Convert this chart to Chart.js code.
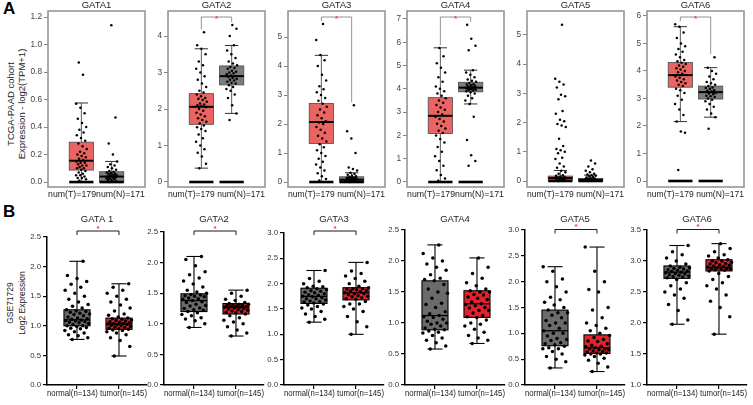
<!DOCTYPE html>
<html><head><meta charset="utf-8">
<script src="https://cdn.jsdelivr.net/npm/chart.js@4.4.1/dist/chart.umd.min.js"></script>
<style>
html,body{margin:0;padding:0;background:#fff}
body{width:753px;height:405px;overflow:hidden;position:relative;font-family:"Liberation Sans",Arial,sans-serif}
canvas{position:absolute}
.yt{position:absolute;white-space:nowrap;text-align:center;color:#222;transform:translate(-50%,-50%) rotate(-90deg)}
.pl{position:absolute;font-weight:bold;font-size:17px;color:#000}
</style></head><body>
<div class="pl" style="left:3px;top:-1px">A</div>
<div class="pl" style="left:3px;top:202px">B</div>
<div class="yt" style="left:16px;top:104px;font-size:9.5px;line-height:11px">TCGA-PAAD cohort<br>Expression - log2(TPM+1)</div>
<div class="yt" style="left:16px;top:303px;font-size:8.5px;line-height:12px">GSE71729<br>Log2 Expression</div>
<script>
// ================= DATA =================
// Panel A : TCGA-PAAD (T = tumor, N = normal)
const genesA = ['GATA1','GATA2','GATA3','GATA4','GATA5','GATA6'];
const xLabelsA = ['num(T)=179num(N)=171','num(T)=179 num(N)=171','num(T)=179 num(N)=171','num(T)=179num(N)=171','num(T)=179 num(N)=171','num(T)=179 num(N)=171'];
const yTicksA = [[0,0.2,0.4,0.6,0.8,1.0,1.2],[0,1,2,3,4],[0,1,2,3,4,5],[0,1,2,3,4,5,6,7],[0,1,2,3,4,5],[0,1,2,3,4,5,6]];
const yRangeA = [[-0.036,1.244],[-0.137,4.685],[-0.172,5.9],[-0.215,7.34],[-0.205,5.82],[-0.218,6.18]];
const sigA = [false,true,true,true,false,true];
// box stats [lower whisker, q1, median, q3, upper whisker]
const statT_A = [[0,0.087,0.155,0.29,0.575],[0.38,1.58,2.06,2.42,3.65],[0,1.33,2.07,2.71,4.37],[0,2.08,2.84,3.62,5.76],[0,0.03,0.1,0.17,0.36],[2.16,3.41,3.85,4.31,5.61]];
const statN_A = [[0,0.002,0.04,0.075,0.15],[1.88,2.66,2.9,3.18,3.74],[0,0.0,0.08,0.18,0.32],[3.35,3.87,4.05,4.28,4.8],[0,0,0.04,0.09,0.2],[2.32,2.98,3.23,3.45,4.12]];
const zeroLevelA = 0;
const tcgaT1 = [0.01,0.02,0.03,0.03,0.04,0.05,0.05,0.06,0.07,0.08,0.09,0.1,0.1,0.11,0.12,0.12,0.13,0.14,0.14,0.15,0.16,0.17,0.18,0.19,0.2,0.21,0.22,0.24,0.26,0.28,0.3,0.32,0.34,0.36,0.38,0.4,0.43,0.46,0.5,0.54,0.57,0.78,0.87];
const tcgaN1 = [0.0,0.005,0.01,0.015,0.02,0.02,0.025,0.03,0.03,0.035,0.04,0.04,0.045,0.05,0.05,0.055,0.06,0.06,0.065,0.07,0.075,0.08,0.09,0.1,0.11,0.12,0.13,0.15,0.2,0.28,0.47,1.14];
const tcgaT2 = [0.38,0.5,0.7,0.8,0.9,1.0,1.1,1.2,1.3,1.4,1.45,1.5,1.55,1.6,1.65,1.7,1.75,1.8,1.85,1.9,1.95,2.0,2.05,2.08,2.1,2.12,2.15,2.2,2.25,2.28,2.3,2.35,2.4,2.45,2.5,2.6,2.7,2.8,2.9,3.0,3.1,3.2,3.3,3.5,3.65,3.75,4.1];
const tcgaN2 = [1.7,1.88,2.1,2.3,2.4,2.5,2.55,2.6,2.65,2.7,2.72,2.75,2.78,2.8,2.82,2.85,2.88,2.9,2.92,2.95,2.98,3.0,3.02,3.05,3.1,3.12,3.15,3.2,3.25,3.3,3.4,3.5,3.6,3.75,4.0,4.2,4.3];
const tcgaT3 = [0.05,0.1,0.2,0.3,0.4,0.5,0.6,0.7,0.8,0.9,1.0,1.1,1.2,1.3,1.4,1.5,1.6,1.7,1.8,1.9,2.0,2.05,2.1,2.2,2.3,2.4,2.5,2.6,2.7,2.8,2.9,3.0,3.1,3.2,3.3,3.5,3.7,4.0,4.2,4.38,4.9,5.45];
const tcgaN3 = [0.0,0.01,0.02,0.03,0.04,0.05,0.05,0.06,0.07,0.07,0.08,0.09,0.1,0.1,0.11,0.12,0.12,0.13,0.14,0.15,0.16,0.18,0.2,0.22,0.25,0.28,0.32,0.4,0.45,0.5,1.0,1.5,1.75,2.65];
const tcgaT4 = [0.05,0.15,0.3,0.5,0.7,0.9,1.1,1.3,1.5,1.7,1.85,2.0,2.1,2.2,2.3,2.4,2.5,2.6,2.7,2.8,2.9,3.0,3.1,3.2,3.3,3.4,3.5,3.6,3.7,3.8,3.9,4.0,4.1,4.3,4.5,4.7,4.9,5.1,5.4,5.75];
const tcgaN4 = [0.7,0.9,1.15,1.8,2.8,3.35,3.5,3.6,3.7,3.8,3.85,3.9,3.93,3.95,3.96,3.98,4.0,4.02,4.05,4.05,4.08,4.1,4.12,4.15,4.18,4.2,4.25,4.3,4.35,4.4,4.5,4.6,4.7,4.8,5.65,5.85,6.15,6.75];
const tcgaT5 = [0.0,0.02,0.04,0.05,0.06,0.08,0.1,0.1,0.12,0.14,0.15,0.18,0.2,0.25,0.3,0.35,0.45,0.5,0.6,0.75,0.8,0.95,1.0,1.05,1.1,1.2,1.45,1.85,1.9,1.95,2.05,2.1,2.3,2.4,2.8,2.9,2.95,3.2,3.3,3.4,3.5,5.35];
const tcgaN5 = [0.0,0.01,0.02,0.03,0.04,0.05,0.06,0.07,0.08,0.09,0.1,0.12,0.14,0.16,0.18,0.2,0.22,0.25,0.3,0.35,0.4,0.5,0.6,0.7];
const tcgaT6 = [0.4,1.75,1.8,2.16,2.4,2.6,2.8,2.95,3.1,3.2,3.3,3.35,3.45,3.5,3.55,3.6,3.65,3.7,3.75,3.8,3.9,3.95,4.0,4.05,4.1,4.15,4.2,4.25,4.3,4.35,4.4,4.5,4.6,4.7,4.8,4.9,5.0,5.2,5.4,5.61,5.7];
const tcgaN6 = [1.9,2.32,2.45,2.6,2.7,2.8,2.9,2.95,3.0,3.05,3.08,3.1,3.15,3.18,3.2,3.25,3.28,3.3,3.35,3.38,3.4,3.45,3.5,3.55,3.6,3.7,3.8,3.9,4.0,4.12,4.5];
const ptsT_A = [tcgaT1,tcgaT2,tcgaT3,tcgaT4,tcgaT5,tcgaT6];
const ptsN_A = [tcgaN1,tcgaN2,tcgaN3,tcgaN4,tcgaN5,tcgaN6];

// Panel B : GSE71729 (normal, tumor)
const genesB = ['GATA 1','GATA2','GATA3','GATA4','GATA5','GATA6'];
const xLabelB = 'normal(n=134) tumor(n=145)';
const yTicksB = [[0,0.5,1,1.5,2,2.5],[0,0.5,1,1.5,2,2.5],[0,0.5,1,1.5,2,2.5,3],[0,0.5,1,1.5,2,2.5],[0,0.5,1,1.5,2,2.5,3],[1,1.5,2,2.5,3,3.5]];
const sigB = [true,true,true,false,true,true];
const statN_B = [[0.77,1.0,1.1,1.27,2.09],[0.94,1.2,1.38,1.49,2.1],[1.24,1.61,1.75,1.91,2.26],[0.58,0.89,1.12,1.68,2.26],[0.33,0.76,1.05,1.45,2.29],[1.98,2.72,2.82,2.92,3.25]];
const statT_B = [[0.49,0.94,1.03,1.13,1.71],[0.8,1.16,1.27,1.33,1.55],[1.0,1.68,1.82,1.92,2.42],[0.67,1.09,1.31,1.52,2.05],[0.26,0.61,0.72,0.97,2.67],[1.82,2.84,2.9,3.02,3.28]];
const geoN1 = [0.77,0.8,0.83,0.85,0.88,0.9,0.92,0.95,0.96,0.97,0.99,1.0,1.0,1.02,1.04,1.05,1.06,1.07,1.08,1.09,1.1,1.11,1.12,1.13,1.15,1.17,1.19,1.2,1.21,1.23,1.24,1.25,1.27,1.3,1.33,1.36,1.4,1.45,1.5,1.55,1.6,1.65,1.7,1.75,1.8,1.85,2.09];
const geoT1 = [0.49,0.65,0.75,0.8,0.85,0.88,0.9,0.92,0.93,0.94,0.95,0.96,0.97,0.98,0.99,1.0,1.01,1.02,1.02,1.03,1.04,1.04,1.05,1.06,1.07,1.08,1.09,1.1,1.11,1.12,1.13,1.15,1.18,1.2,1.25,1.3,1.35,1.4,1.45,1.5,1.55,1.6,1.65,1.71];
const geoN2 = [0.94,1.0,1.05,1.08,1.1,1.13,1.15,1.18,1.2,1.22,1.23,1.25,1.26,1.29,1.3,1.32,1.35,1.36,1.38,1.4,1.41,1.42,1.44,1.45,1.46,1.47,1.48,1.5,1.52,1.55,1.6,1.65,1.7,1.75,1.8,1.85,1.95,2.05,2.1];
const geoT2 = [0.8,0.85,0.9,0.95,1.0,1.03,1.06,1.1,1.13,1.16,1.18,1.19,1.2,1.21,1.22,1.23,1.24,1.25,1.26,1.27,1.27,1.28,1.28,1.29,1.3,1.3,1.31,1.32,1.32,1.33,1.35,1.38,1.4,1.45,1.5,1.55];
const geoN3 = [1.24,1.3,1.35,1.4,1.45,1.5,1.52,1.55,1.58,1.6,1.62,1.64,1.65,1.66,1.68,1.7,1.7,1.72,1.74,1.75,1.77,1.78,1.8,1.82,1.83,1.85,1.86,1.88,1.9,1.92,1.94,1.95,2.0,2.05,2.1,2.26];
const geoT3 = [1.0,1.15,1.25,1.35,1.45,1.5,1.55,1.6,1.6,1.65,1.69,1.7,1.72,1.74,1.75,1.76,1.78,1.8,1.8,1.82,1.84,1.85,1.86,1.88,1.89,1.9,1.9,1.92,1.95,2.0,2.05,2.1,2.15,2.2,2.25,2.42];
const geoN4 = [0.58,0.63,0.68,0.72,0.76,0.8,0.84,0.85,0.87,0.89,0.9,0.92,0.95,0.98,1.0,1.0,1.03,1.06,1.09,1.1,1.12,1.15,1.18,1.25,1.3,1.32,1.4,1.48,1.5,1.55,1.62,1.68,1.7,1.72,1.78,1.85,1.9,1.95,2.0,2.05,2.12,2.26];
const geoT4 = [0.67,0.72,0.76,0.8,0.85,0.9,0.95,0.98,1.0,1.05,1.09,1.1,1.12,1.16,1.2,1.2,1.24,1.25,1.28,1.3,1.31,1.34,1.38,1.4,1.42,1.45,1.46,1.5,1.5,1.52,1.55,1.6,1.65,1.72,1.8,1.9,2.05];
const geoN5 = [0.33,0.45,0.5,0.55,0.6,0.65,0.7,0.7,0.72,0.75,0.78,0.8,0.82,0.86,0.88,0.9,0.95,1.0,1.0,1.05,1.1,1.15,1.2,1.2,1.25,1.3,1.35,1.4,1.4,1.45,1.5,1.55,1.6,1.65,1.7,1.8,1.9,2.0,2.05,2.2,2.29];
const geoT5 = [0.26,0.35,0.42,0.48,0.52,0.55,0.58,0.6,0.6,0.62,0.62,0.64,0.65,0.66,0.68,0.68,0.7,0.7,0.72,0.74,0.75,0.77,0.8,0.84,0.85,0.88,0.92,0.96,1.0,1.05,1.1,1.15,1.2,1.3,1.45,1.5,1.8,1.85,2.0,2.2,2.67];
const geoN6 = [1.98,2.05,2.2,2.3,2.4,2.45,2.5,2.55,2.6,2.65,2.7,2.73,2.74,2.75,2.76,2.77,2.78,2.79,2.8,2.81,2.82,2.83,2.84,2.85,2.86,2.87,2.88,2.89,2.9,2.92,2.95,3.0,3.05,3.1,3.15,3.25];
const geoT6 = [1.82,2.1,2.25,2.35,2.45,2.55,2.6,2.65,2.7,2.75,2.8,2.84,2.85,2.86,2.87,2.87,2.88,2.88,2.89,2.9,2.91,2.92,2.93,2.94,2.95,2.96,2.97,2.98,3.0,3.0,3.02,3.05,3.08,3.1,3.15,3.2,3.28];
const ptsN_B = [geoN1,geoN2,geoN3,geoN4,geoN5,geoN6];
const ptsT_B = [geoT1,geoT2,geoT3,geoT4,geoT5,geoT6];

// ================= DRAWING =================
const FONT = '"Liberation Sans", Arial, sans-serif';
Chart.defaults.font.family = FONT;
function jit(j, half){ const f = (j*0.6180339887 + 0.31) % 1; return (f - 0.5) * 2 * half; }
function mkCanvas(left, top, w, h){
  const c = document.createElement('canvas');
  c.width = w; c.height = h;
  c.style.left = left + 'px'; c.style.top = top + 'px';
  c.style.width = w + 'px'; c.style.height = h + 'px';
  document.body.appendChild(c);
  return c;
}
function line(ctx, x1, y1, x2, y2){ ctx.beginPath(); ctx.moveTo(x1,y1); ctx.lineTo(x2,y2); ctx.stroke(); }

// ---------- Row A ----------
genesA.forEach((g, i) => {
  const L = 48 + i * 119.8;
  const c = mkCanvas(Math.round(L - 40), 0, 143, 205);
  const groups = [
    {x:1, st:statT_A[i], pts:ptsT_A[i], fill:'rgb(234,100,98)'},
    {x:2, st:statN_A[i], pts:ptsN_A[i], fill:'#7d7d7d'}
  ];
  const BH = 0.4, CAP = 0.22;
  const plug = {
    id: 'boxA' + i,
    beforeDatasetsDraw(chart){
      const {ctx, scales:{x, y}} = chart;
      ctx.save();
      groups.forEach(gr => {
        const [lo,q1,md,q3,hi] = gr.st;
        const xc = x.getPixelForValue(gr.x);
        ctx.strokeStyle = '#333'; ctx.lineWidth = 0.8;
        line(ctx, xc, y.getPixelForValue(lo), xc, y.getPixelForValue(q1));
        line(ctx, xc, y.getPixelForValue(q3), xc, y.getPixelForValue(hi));
        const cl = x.getPixelForValue(gr.x - CAP), cr = x.getPixelForValue(gr.x + CAP);
        ctx.lineWidth = 1;
        line(ctx, cl, y.getPixelForValue(hi), cr, y.getPixelForValue(hi));
        line(ctx, cl, y.getPixelForValue(lo), cr, y.getPixelForValue(lo));
        const bl = x.getPixelForValue(gr.x - BH), br = x.getPixelForValue(gr.x + BH);
        const yt = y.getPixelForValue(q3), yb = y.getPixelForValue(q1);
        ctx.fillStyle = gr.fill;
        ctx.fillRect(bl, yt, br - bl, Math.max(yb - yt, 1));
        ctx.strokeStyle = '#4a4a4a'; ctx.lineWidth = 0.8;
        ctx.strokeRect(bl, yt, br - bl, Math.max(yb - yt, 1));
      });
      ctx.restore();
    },
    afterDatasetsDraw(chart){
      const {ctx, chartArea:a, scales:{x, y}} = chart;
      ctx.save();
      groups.forEach(gr => {
        const md = gr.st[2];
        const bl = x.getPixelForValue(gr.x - BH), br = x.getPixelForValue(gr.x + BH);
        ctx.strokeStyle = '#000'; ctx.lineWidth = 2;
        line(ctx, bl, y.getPixelForValue(md), br, y.getPixelForValue(md));
        ctx.lineWidth = 2.6;
        const yz = y.getPixelForValue(zeroLevelA);
        line(ctx, bl, yz, br, yz);
      });
      ctx.strokeStyle = '#8f8f8f'; ctx.lineWidth = 1.5;
      ctx.strokeRect(a.left, a.top, a.right - a.left, a.bottom - a.top);
      ctx.fillStyle = '#222'; ctx.font = '9.5px ' + FONT;
      ctx.textAlign = 'center'; ctx.textBaseline = 'middle';
      ctx.fillText(g, (a.left + a.right) / 2, 5.5);
      if (sigA[i]) {
        const x1 = x.getPixelForValue(1), x2 = x.getPixelForValue(2);
        const yb = a.top + 6;
        const d1 = y.getPixelForValue(Math.max(...groups[0].pts)) - 3;
        const d2 = y.getPixelForValue(Math.max(...groups[1].pts)) - 3;
        ctx.strokeStyle = '#777'; ctx.lineWidth = 0.8;
        ctx.beginPath(); ctx.moveTo(x1, d1); ctx.lineTo(x1, yb); ctx.lineTo(x2, yb); ctx.lineTo(x2, d2); ctx.stroke();
        ctx.fillStyle = '#ff3b3b'; ctx.font = 'bold 8px ' + FONT;
        ctx.fillText('*', (x1 + x2) / 2, yb + 1.5);
      }
      ctx.restore();
    }
  };
  new Chart(c, {
    type: 'scatter',
    data: { datasets: groups.map(gr => ({
      data: gr.pts.map((v, j) => ({x: gr.x + jit(j, 0.18), y: v})),
      pointRadius: 1.25, pointBackgroundColor: '#000', pointBorderWidth: 0, pointHoverRadius: 1.25
    })) },
    options: {
      responsive: false, animation: false, devicePixelRatio: 1,
      events: [],
      layout: { padding: { top: 11, right: 6, left: 0, bottom: 0 } },
      plugins: { legend: { display: false }, tooltip: { enabled: false } },
      scales: {
        x: { type: 'linear', min: -0.1, max: 3.1,
             grid: { display: false }, border: { display: false }, ticks: { display: false },
             title: { display: true, text: xLabelsA[i], color: '#222', font: { size: 9.3 }, padding: { top: 0, bottom: 5.4 } },
             afterFit(s){ s.height = 18; } },
        y: { type: 'linear', min: yRangeA[i][0], max: yRangeA[i][1],
             afterBuildTicks(s){ s.ticks = yTicksA[i].map(v => ({value: v})); },
             ticks: { color: '#444', font: { size: 8.3 }, padding: 2,
                      callback: v => i === 0 ? Number(v).toFixed(1) : String(v) },
             grid: { drawOnChartArea: false, tickLength: 4, color: '#666', lineWidth: 0.8 },
             border: { display: false },
             afterFit(s){ s.width = 40; } }
      }
    },
    plugins: [plug]
  });
});

// ---------- Row B ----------
const axisLeftB = [47, 164, 284, 405, 525, 647];
const axisTopB = [237, 232, 233, 230, 230, 230];
genesB.forEach((g, i) => {
  const X = axisLeftB[i];
  const c = mkCanvas(X - 40, 200, 146, 205);
  const groups = [
    {x:1, st:statN_B[i], pts:ptsN_B[i], fill:'#6b6b6b'},
    {x:2, st:statT_B[i], pts:ptsT_B[i], fill:'#e3222b'}
  ];
  const BH = 0.31, CAP = 0.18;
  const plug = {
    id: 'boxB' + i,
    beforeDatasetsDraw(chart){
      const {ctx, scales:{x, y}} = chart;
      ctx.save();
      groups.forEach(gr => {
        const [lo,q1,md,q3,hi] = gr.st;
        const bl = x.getPixelForValue(gr.x - BH), br = x.getPixelForValue(gr.x + BH);
        const yt = y.getPixelForValue(q3), yb = y.getPixelForValue(q1);
        ctx.fillStyle = gr.fill;
        ctx.fillRect(bl, yt, br - bl, yb - yt);
      });
      ctx.restore();
    },
    afterDatasetsDraw(chart){
      const {ctx, chartArea:a, scales:{x, y}} = chart;
      ctx.save();
      groups.forEach(gr => {
        const [lo,q1,md,q3,hi] = gr.st;
        const xc = x.getPixelForValue(gr.x);
        const bl = x.getPixelForValue(gr.x - BH), br = x.getPixelForValue(gr.x + BH);
        const cl = x.getPixelForValue(gr.x - CAP), cr = x.getPixelForValue(gr.x + CAP);
        const yt = y.getPixelForValue(q3), yb = y.getPixelForValue(q1);
        ctx.strokeStyle = '#000'; ctx.lineWidth = 1.1;
        ctx.strokeRect(bl, yt, br - bl, yb - yt);
        line(ctx, xc, y.getPixelForValue(lo), xc, yb);
        line(ctx, xc, yt, xc, y.getPixelForValue(hi));
        line(ctx, cl, y.getPixelForValue(lo), cr, y.getPixelForValue(lo));
        line(ctx, cl, y.getPixelForValue(hi), cr, y.getPixelForValue(hi));
        ctx.lineWidth = 1.3;
        line(ctx, bl, y.getPixelForValue(md), br, y.getPixelForValue(md));
      });
      ctx.fillStyle = '#222'; ctx.font = '9.5px ' + FONT;
      ctx.textAlign = 'center'; ctx.textBaseline = 'middle';
      ctx.fillText(g, (a.left + a.right) / 2, 19.5);
      if (sigB[i]) {
        const x1 = x.getPixelForValue(1), x2 = x.getPixelForValue(2);
        const yb = i >= 4 ? 29.5 : 31;
        ctx.strokeStyle = '#000'; ctx.lineWidth = 0.9;
        ctx.beginPath(); ctx.moveTo(x1, yb + 4); ctx.lineTo(x1, yb); ctx.lineTo(x2, yb); ctx.lineTo(x2, yb + 4); ctx.stroke();
        ctx.fillStyle = '#ff3333'; ctx.font = 'bold 8px ' + FONT;
        ctx.fillText('*', (x1 + x2) / 2, yb - 2.5);
      }
      ctx.restore();
    }
  };
  new Chart(c, {
    type: 'scatter',
    data: { datasets: groups.map(gr => ({
      data: gr.pts.map((v, j) => ({x: gr.x + jit(j, 0.3), y: v})),
      pointRadius: 1.75, pointBackgroundColor: '#000', pointBorderWidth: 0, pointHoverRadius: 1.75
    })) },
    options: {
      responsive: false, animation: false, devicePixelRatio: 1,
      events: [],
      layout: { padding: { top: axisTopB[i] - 200, right: 6, left: 0, bottom: 0 } },
      plugins: { legend: { display: false }, tooltip: { enabled: false } },
      scales: {
        x: { type: 'linear', min: 0.286, max: 2.667,
             afterBuildTicks(s){ s.ticks = [{value: 1}, {value: 2}]; },
             grid: { drawOnChartArea: false, tickLength: 4, color: '#000', lineWidth: 1.2 },
             border: { display: true, color: '#000', width: 1.5 },
             ticks: { display: false },
             title: { display: true, text: xLabelB, color: '#222', font: { size: 8.2 }, padding: { top: 0, bottom: 6 } },
             afterFit(s){ s.height = 20; } },
        y: { type: 'linear', min: yTicksB[i][0], max: yTicksB[i][yTicksB[i].length - 1],
             afterBuildTicks(s){ s.ticks = yTicksB[i].map(v => ({value: v})); },
             ticks: { color: '#333', font: { size: 7.8 }, padding: 2, callback: v => Number(v).toFixed(1) },
             grid: { drawOnChartArea: false, tickLength: 4, color: '#000', lineWidth: 1.2 },
             border: { display: true, color: '#000', width: 1.5 },
             afterFit(s){ s.width = 40; } }
      }
    },
    plugins: [plug]
  });
});
</script>
</body></html>
